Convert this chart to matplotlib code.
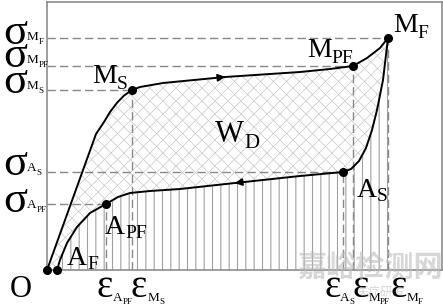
import numpy as np
import matplotlib.pyplot as plt
from matplotlib.patches import Polygon

plt.rcParams['hatch.linewidth'] = 0.8

# loading branch O -> M_S -> M_PF -> M_F  (strain %, stress MPa)
load_eps = [0, 0.98, 1.14, 1.26, 1.40, 1.54, 1.70, 1.86, 2.32, 3.56, 5.06, 5.66, 6.12, 6.40, 6.66, 6.82]
load_sig = [0, 340, 370, 395, 418, 436, 450, 457.5, 467.5, 482.5, 495, 502.5, 510, 530, 555, 580]

# unloading branch M_F -> A_S -> A_PF -> A_F
unload_eps = [6.82, 6.72, 6.60, 6.50, 6.38, 6.24, 6.08, 5.92, 5.06, 3.76, 2.66, 2.06, 1.66, 1.42, 1.18, 0.86, 0.60, 0.40, 0.26, 0.20]
unload_sig = [580, 475, 400, 350, 305, 272.5, 252.5, 245, 235, 217.5, 202.5, 197.5, 192.5, 182.5, 165, 142.5, 107.5, 67.5, 25, 0]

# marked points: O, A_F, M_S, M_PF, M_F, A_S, A_PF
pt_eps = [0, 0.20, 1.70, 6.12, 6.82, 5.92, 1.18]
pt_sig = [0, 0, 450, 510, 580, 245, 165]

# guide lines: horizontal to sigma levels, vertical to eps levels
sig_levels = [580, 510, 450, 245, 165]
sig_reach = [6.82, 6.12, 1.70, 5.92, 1.18]
eps_levels = [1.18, 1.70, 5.92, 6.12, 6.82]
eps_from = [165, 450, 245, 510, 580]

W, H = 443, 307
fig = plt.figure(figsize=(W / 100, H / 100), dpi=100)
ax = fig.add_axes([47 / W, 37 / H, 395 / W, 268 / H])
ax.set_xlim(0, 7.9)
ax.set_ylim(0, 670)
ax.set_xticks([])
ax.set_yticks([])
for sp in ax.spines.values():
    sp.set_color('#8c8c8c')
    sp.set_linewidth(1.2)

# cross hatch inside the hysteresis loop
loop = np.r_[np.c_[load_eps, load_sig], np.c_[unload_eps, unload_sig]]
loop_patch = Polygon(loop, closed=True, facecolor='none', edgecolor='none')
ax.add_patch(loop_patch)
k = 125  # 45 degrees on screen
xs = np.array([-1.0, 9.0])
for c in np.arange(-6, 14, 0.26):
    for s in (1, -1):
        ln, = ax.plot(xs, s * k * (xs - c), color='#cbcbcb', lw=0.55, zorder=1)
        ln.set_clip_path(loop_patch)

# vertical hatch under the unloading branch
under = np.r_[np.c_[unload_eps, unload_sig], [[unload_eps[-1], 0], [unload_eps[0], 0]]]
ax.add_patch(Polygon(under, closed=True, facecolor='none', edgecolor='#a0a0a0',
                     lw=0, hatch='||', zorder=1))

# dashed guides
for s, xr in zip(sig_levels, sig_reach):
    ax.plot([0, xr], [s, s], color='#888888', lw=1.0, dashes=(6, 3), zorder=2)
for e, y0 in zip(eps_levels, eps_from):
    ax.plot([e, e], [0, y0], color='#888888', lw=1.0, dashes=(6, 3), zorder=2)

# curves
ax.plot(load_eps, load_sig, color='black', lw=1.4, zorder=3, solid_joinstyle='round')
ax.plot(unload_eps, unload_sig, color='black', lw=1.4, zorder=3, solid_joinstyle='round')
ax.plot(pt_eps, pt_sig, 'o', color='black', ms=5.5, zorder=4, clip_on=False)

# direction arrows
ax.annotate('', xy=(3.62, 483.5), xytext=(3.40, 480.5),
            arrowprops=dict(arrowstyle='-|>', color='black', lw=1.2, mutation_scale=11), zorder=4)
ax.annotate('', xy=(3.70, 216.5), xytext=(3.92, 220),
            arrowprops=dict(arrowstyle='-|>', color='black', lw=1.2, mutation_scale=11), zorder=4)

SERIF = 'Liberation Serif'
rend = fig.canvas.get_renderer()


def chain(x, y, items):
    # items: (text, size, baseline shift in px); each piece starts where the last ended
    for s, size, dy in items:
        t = fig.text(x / W, 1 - (y + dy) / H, s, fontsize=size, family=SERIF,
                     ha='left', va='baseline')
        x = t.get_window_extent(rend).x1


# point labels
chain(92, 83, [('M', 20, 0), ('S', 14, 6)])
chain(307, 57, [('M', 20, 0), ('PF', 14, 6)])
chain(393, 32, [('M', 20, 0), ('F', 14, 6)])
chain(215, 142, [('W', 22, 0), ('D', 15, 6)])
chain(357, 197, [('A', 20, 0), ('S', 14, 4)])
chain(105, 234, [('A', 20, 0), ('PF', 14, 4)])
chain(67, 265, [('A', 20, 0), ('F', 14, 4)])

# stress labels on the left
for sub, subsub, yb in [('M', 'F', 44), ('M', 'PF', 67), ('M', 'S', 93), ('A', 'S', 175), ('A', 'PF', 212)]:
    chain(3, yb, [('σ', 32, 0), (sub, 9.5, -4), (subsub, 6.5, 0)])

# strain labels at the bottom
chain(10, 297, [('O', 22, 0)])
for x0, sub, subsub in [(97, 'A', 'PF'), (131, 'M', 'S'), (324, 'A', 'S'), (352, 'M', 'PF'), (390, 'M', 'F')]:
    chain(x0, 297, [('ε', 28, 0), (sub, 9.5, 4), (subsub, 6.5, 7)])

# watermark
fig.text(297 / W, 1 - 277 / H, '嘉峪检测网', fontsize=21, family=['Noto Sans CJK SC', 'DejaVu Sans'],
         color='#bdbdbd', alpha=0.6, fontweight='bold', va='baseline', zorder=10)
fig.text(356 / W, 1 - 297 / H, '医疗研发', fontsize=9, family=['Noto Sans CJK SC', 'DejaVu Sans'],
         color='#b0b0b0', alpha=0.5, va='baseline', zorder=0)

fig.savefig('out.png', dpi=100)
